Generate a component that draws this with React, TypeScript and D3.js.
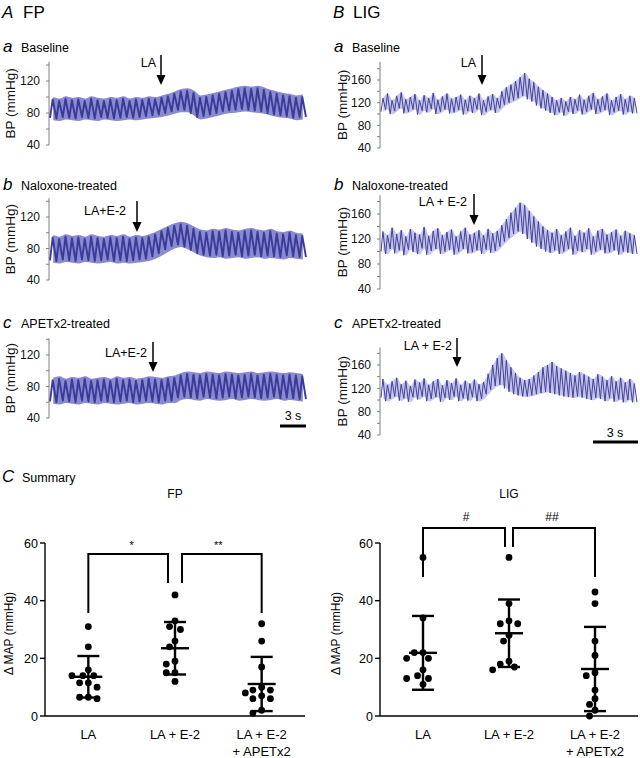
import React from "react";
import * as d3 from "d3";

const FONT = '"Liberation Sans", Arial, Helvetica, sans-serif';

// ---------- Trace data: per-cycle systolic (HI) and diastolic (LO) values, mmHg ----------
const FP_BASE_HI = [97,95,98,96,97,95,98,96,95,97,96,98,95,97,96,98,97,99,101,104,107,108,105,99,100,102,104,106,108,110,111,110,111,109,106,104,102,101,99,100];
const FP_BASE_LO = [74,73,75,74,73,75,74,73,75,74,73,74,75,74,75,76,77,78,80,82,84,84,80,75,76,78,80,82,83,84,85,84,83,82,80,78,77,76,74,75];
const FP_NAL_HI = [94,92,95,93,94,92,95,93,92,94,93,95,92,94,93,95,98,102,106,109,111,109,105,101,100,102,101,103,101,100,102,103,101,100,102,99,98,100,97,96];
const FP_NAL_LO = [65,64,66,65,64,66,65,64,65,66,64,65,64,65,66,67,70,74,79,83,85,82,78,74,72,71,72,70,71,72,70,71,72,70,71,70,69,71,70,69];
const FP_APE_HI = [88,90,87,89,88,90,87,88,89,87,90,88,89,87,88,90,89,88,90,91,94,96,95,94,96,95,94,96,95,94,95,96,94,95,96,95,94,95,94,93];
const FP_APE_LO = [61,60,62,61,60,62,61,60,62,61,60,61,62,60,61,62,61,60,62,62,66,67,66,65,67,66,65,66,67,65,66,67,66,65,66,67,65,66,65,64];

const LIG_BASE_HI = [128,136,124,132,138,126,130,135,124,133,128,137,125,131,136,127,130,134,125,132,128,136,124,131,135,128,140,147,152,158,165,172,162,156,148,142,136,130,124,128,122,130,126,134,125,132,137,126,131,136,124,130,135,126,132,128];
const LIG_BASE_LO = [104,108,100,105,110,101,104,108,99,106,103,109,100,104,108,101,103,107,99,105,102,108,98,104,107,102,110,116,120,124,128,132,126,122,115,110,106,102,98,103,97,104,100,106,99,104,108,100,104,107,98,103,106,99,104,101];
const LIG_NAL_HI = [132,126,138,128,134,124,136,130,127,139,125,133,137,126,131,135,124,132,138,127,130,134,126,136,129,133,142,152,162,170,178,174,165,156,148,140,134,130,136,126,132,138,125,134,130,137,124,133,136,127,131,135,125,133,129,126];
const LIG_NAL_LO = [100,96,104,97,102,94,103,99,96,105,95,101,104,96,100,103,95,100,104,97,99,102,96,103,98,101,108,116,122,128,132,128,120,114,108,104,100,98,102,96,100,104,95,101,99,104,95,100,103,97,99,102,95,100,98,96];
const LIG_APE_HI = [136,126,132,138,127,133,124,135,130,137,126,132,136,125,134,129,137,126,133,128,135,127,131,145,160,172,180,168,156,146,138,134,136,142,148,156,160,165,158,154,150,146,142,148,144,140,136,144,140,134,141,132,138,130,136,128];
const LIG_APE_LO = [104,98,102,106,99,103,97,105,101,106,98,102,105,97,104,100,106,98,103,99,105,98,102,110,118,124,126,120,114,110,108,106,106,108,110,112,114,112,110,108,106,105,104,106,104,102,100,104,102,98,103,97,101,96,100,96];

const FP_TICKS = [40, 60, 80, 100, 120, 140];
const FP_LABELS = [40, 80, 120];
const LIG_TICKS = [40, 60, 80, 100, 120, 140, 160, 180];
const LIG_LABELS = [40, 80, 120, 160];

// ---------- Summary data: ΔMAP (mmHg) ----------
const CATEGORIES = ["LA", "LA + E-2", "LA + E-2|+ APETx2"];
const MAP_TICKS = [0, 20, 40, 60];
const FP_LA = [31, 24, 16, 14, 14, 14, 11.5, 11.5, 10, 6.5, 6, 6.5];
const FP_LAE2 = [42, 33, 31, 30, 26, 24, 19, 18, 15, 15, 12];
const FP_APET = [32, 26, 17, 10, 9, 9, 8, 7, 6, 6, 2, 1];
const LIG_LA = [55, 34, 22, 22, 20, 20, 16, 14, 13, 13, 11];
const LIG_LAE2 = [55, 39, 33, 32, 32, 28, 26, 19, 18, 17, 16];
const LIG_APET = [43, 39, 26, 21, 15, 14, 9, 6, 4, 2, 0];
const FP_MEAN = [13.6, 23.5, 11.1];
const FP_SD = [7.2, 9.1, 9.4];
const LIG_MEAN = [21.9, 28.7, 16.3];
const LIG_SD = [12.8, 11.7, 14.6];
const FP_SIG = ["*", "**"];
const LIG_SIG = ["#", "##"];

type TraceProps = {
  hi: number[];
  lo: number[];
  x0: number;
  x1: number;
  y40: number;
  yRef: number;
  refVal: number;
  axisTop: number;
  ticks: number[];
  labels: number[];
  kind: "fp" | "lig";
  ylabelX: number;
};

function Trace(p: TraceProps) {
  const y = d3.scaleLinear().domain([40, p.refVal]).range([p.y40, p.yRef]);
  const n = p.hi.length;
  const x = d3.scaleLinear().domain([0, n]).range([p.x0 + 1, p.x1]);
  const pts: [number, number][] = [];
  for (let i = 0; i < n; i++) {
    pts.push([x(i), y(p.lo[i])]);
    pts.push([x(i + 0.42), y(p.hi[i])]);
  }
  pts.push([x(n), y(p.lo[n - 1])]);
  const zig = d3.line()(pts) || "";
  const idx = d3.range(n);
  const pad = p.kind === "fp" ? 3 : 0.5;
  const band =
    d3
      .area<number>()
      .x((i) => x(i + 0.5))
      .y0((i) => y(p.lo[i] - pad))
      .y1((i) => y(p.hi[i] + pad))
      .curve(d3.curveMonotoneX)(idx) || "";
  const fp = p.kind === "fp";
  const mid = (y(40) + y(p.axisTop)) / 2;
  return (
    <g>
      <line x1={p.x0} x2={p.x0} y1={y(40)} y2={y(p.axisTop)} stroke="#808080" strokeWidth={1} />
      {p.ticks.map((t) => (
        <line key={t} x1={p.x0 - 3} x2={p.x0} y1={y(t)} y2={y(t)} stroke="#808080" strokeWidth={1} />
      ))}
      {p.labels.map((t) => (
        <text key={t} x={p.x0 - 9} y={y(t)} dy="0.36em" textAnchor="end" fontSize={12} fill="#111">
          {t}
        </text>
      ))}
      <text
        transform={`translate(${p.ylabelX},${mid}) rotate(-90)`}
        textAnchor="middle"
        fontSize={13.5}
        fill="#111"
      >
        BP (mmHg)
      </text>
      <path d={band} fill={fp ? "#8a8ad0" : "#c6c6ec"} stroke="none" />
      <path
        d={zig}
        fill="none"
        stroke={fp ? "#3a3a98" : "#42429a"}
        strokeWidth={fp ? 1.9 : 1}
        strokeLinejoin="round"
      />
    </g>
  );
}

function Arrow({ x, yTop, yTip, label, labelEnd, labelY }: { x: number; yTop: number; yTip: number; label: string; labelEnd: number; labelY: number }) {
  return (
    <g>
      <line x1={x} x2={x} y1={yTop} y2={yTip - 8} stroke="#000" strokeWidth={1.5} />
      <path d={`M${x - 4.5},${yTip - 10}L${x + 4.5},${yTip - 10}L${x},${yTip}Z`} fill="#000" />
      <text x={labelEnd} y={labelY} textAnchor="end" fontSize={12.5} fill="#000">
        {label}
      </text>
    </g>
  );
}

function SubTitle({ x, y, letter, text }: { x: number; y: number; letter: string; text: string }) {
  return (
    <g>
      <text x={x} y={y} fontSize={17} fontStyle="italic" fill="#000">
        {letter}
      </text>
      <text x={x + 18} y={y} fontSize={12.5} fill="#000">
        {text}
      </text>
    </g>
  );
}

function swarm(values: number[], y: (v: number) => number, cx: number, r: number) {
  const order = values.map((v, i) => ({ v, i })).sort((a, b) => b.v - a.v);
  const placed: { x: number; y: number }[] = [];
  const out: { x: number; y: number }[] = new Array(values.length);
  const step = 2 * r + 2;
  const cands = [0, -1, 1, -1.6, 1.6, -2.2, 2.2, -3, 3];
  for (const { v, i } of order) {
    const py = y(v);
    let px = cx;
    for (const c of cands) {
      const tx = cx + c * step * 0.62;
      if (placed.every((q) => Math.hypot(q.x - tx, q.y - py) >= 2 * r + 1)) {
        px = tx;
        break;
      }
    }
    placed.push({ x: px, y: py });
    out[i] = { x: px, y: py };
  }
  return out;
}

type SummaryProps = {
  x0: number;
  x1: number;
  yZero: number;
  ySixty: number;
  groups: number[][];
  means: number[];
  sds: number[];
  sig: string[];
  title: string;
  ylabelX: number;
  bracketTop: number;
  legOuter: number;
  legInner: number;
  gap: number;
  sigY: number;
  sigSize: number;
};

function Summary(p: SummaryProps) {
  const y = d3.scaleLinear().domain([0, 60]).range([p.yZero, p.ySixty]);
  const xs = d3.scalePoint<string>().domain(CATEGORIES).range([p.x0, p.x1]).padding(0.5);
  const cx = CATEGORIES.map((c) => xs(c) as number);
  const r = 3.4;
  const b1 = `M${cx[0]},${y(p.legOuter)}V${y(p.bracketTop)}H${cx[1] - p.gap}V${y(p.legInner)}`;
  const b2 = `M${cx[1] + p.gap},${y(p.legInner)}V${y(p.bracketTop)}H${cx[2]}V${y(p.legOuter)}`;
  return (
    <g>
      <text x={(p.x0 + p.x1) / 2} y={498} textAnchor="middle" fontSize={12} fill="#000">
        {p.title}
      </text>
      <line x1={p.x0} x2={p.x0} y1={y(0)} y2={y(60)} stroke="#000" strokeWidth={1.4} />
      <line x1={p.x0} x2={p.x1} y1={y(0)} y2={y(0)} stroke="#000" strokeWidth={1.4} />
      {MAP_TICKS.map((t) => (
        <g key={t}>
          <line x1={p.x0 - 5} x2={p.x0} y1={y(t)} y2={y(t)} stroke="#000" strokeWidth={1.4} />
          <text x={p.x0 - 7} y={y(t)} dy="0.36em" textAnchor="end" fontSize={12.5} fill="#000">
            {t}
          </text>
        </g>
      ))}
      <text
        transform={`translate(${p.ylabelX},${(y(0) + y(60)) / 2 + 4}) rotate(-90)`}
        textAnchor="middle"
        fontSize={12}
        fill="#000"
      >
        Δ MAP (mmHg)
      </text>
      {CATEGORIES.map((c, i) => (
        <text key={c} x={cx[i]} y={739} textAnchor="middle" fontSize={13} fill="#000">
          {c.split("|").map((line, j) => (
            <tspan key={j} x={cx[i]} dy={j === 0 ? 0 : 17}>
              {line}
            </tspan>
          ))}
        </text>
      ))}
      {p.groups.map((vals, gi) =>
        swarm(vals, y, cx[gi], r).map((pt, k) => <circle key={`${gi}-${k}`} cx={pt.x} cy={pt.y} r={r} fill="#000" />)
      )}
      {p.means.map((m, i) => {
        const hi = y(m + p.sds[i]);
        const lo = y(m - p.sds[i]);
        return (
          <g key={i} stroke="#000" strokeWidth={2.4}>
            <line x1={cx[i]} x2={cx[i]} y1={hi} y2={lo} />
            <line x1={cx[i] - 11} x2={cx[i] + 11} y1={hi} y2={hi} />
            <line x1={cx[i] - 11} x2={cx[i] + 11} y1={lo} y2={lo} />
            <line x1={cx[i] - 14} x2={cx[i] + 14} y1={y(m)} y2={y(m)} />
          </g>
        );
      })}
      <path d={b1} fill="none" stroke="#000" strokeWidth={2} />
      <path d={b2} fill="none" stroke="#000" strokeWidth={2} />
      <text x={(cx[0] + cx[1]) / 2} y={p.sigY} textAnchor="middle" fontSize={p.sigSize} fill="#000">
        {p.sig[0]}
      </text>
      <text x={(cx[1] + cx[2]) / 2} y={p.sigY} textAnchor="middle" fontSize={p.sigSize} fill="#000">
        {p.sig[1]}
      </text>
    </g>
  );
}

export default function App() {
  return (
    <svg
      width={640}
      height={758}
      viewBox="0 0 640 758"
      style={{ position: "absolute", left: 0, top: 0, background: "#fff" }}
      fontFamily={FONT}
    >
      <rect width={640} height={758} fill="#fff" />
      {/* Panel titles */}
      <text x={2} y={18} fontSize={17} fontStyle="italic">A</text>
      <text x={23} y={18} fontSize={17}>FP</text>
      <text x={333} y={18} fontSize={17} fontStyle="italic">B</text>
      <text x={353} y={18} fontSize={17}>LIG</text>

      <SubTitle x={3} y={52} letter="a" text="Baseline" />
      <SubTitle x={3} y={190} letter="b" text="Naloxone-treated" />
      <SubTitle x={3} y={328} letter="c" text="APETx2-treated" />
      <SubTitle x={334} y={52} letter="a" text="Baseline" />
      <SubTitle x={334} y={190} letter="b" text="Naloxone-treated" />
      <SubTitle x={334} y={328} letter="c" text="APETx2-treated" />

      {/* FP traces */}
      <Trace hi={FP_BASE_HI} lo={FP_BASE_LO} x0={49} x1={306} y40={145} yRef={81} refVal={120} axisTop={144} ticks={FP_TICKS} labels={FP_LABELS} kind="fp" ylabelX={15} />
      <Trace hi={FP_NAL_HI} lo={FP_NAL_LO} x0={49} x1={306} y40={280} yRef={217} refVal={120} axisTop={144} ticks={FP_TICKS} labels={FP_LABELS} kind="fp" ylabelX={15} />
      <Trace hi={FP_APE_HI} lo={FP_APE_LO} x0={49} x1={306} y40={418} yRef={355} refVal={120} axisTop={141} ticks={FP_TICKS} labels={FP_LABELS} kind="fp" ylabelX={15} />

      {/* LIG traces */}
      <Trace hi={LIG_BASE_HI} lo={LIG_BASE_LO} x0={380} x1={637} y40={148} yRef={80} refVal={160} axisTop={192} ticks={LIG_TICKS} labels={LIG_LABELS} kind="lig" ylabelX={347} />
      <Trace hi={LIG_NAL_HI} lo={LIG_NAL_LO} x0={380} x1={637} y40={289} yRef={214} refVal={160} axisTop={190} ticks={LIG_TICKS} labels={LIG_LABELS} kind="lig" ylabelX={347} />
      <Trace hi={LIG_APE_HI} lo={LIG_APE_LO} x0={380} x1={637} y40={435} yRef={365} refVal={160} axisTop={190} ticks={LIG_TICKS} labels={LIG_LABELS} kind="lig" ylabelX={347} />

      {/* Arrows */}
      <Arrow x={161} yTop={55} yTip={85} label="LA" labelEnd={156} labelY={67} />
      <Arrow x={137} yTop={201} yTip={232} label="LA+E-2" labelEnd={126} labelY={215} />
      <Arrow x={153} yTop={342} yTip={372} label="LA+E-2" labelEnd={147} labelY={357} />
      <Arrow x={482} yTop={55} yTip={85} label="LA" labelEnd={476} labelY={67} />
      <Arrow x={474} yTop={194} yTip={225} label="LA + E-2" labelEnd={467} labelY={206} />
      <Arrow x={457} yTop={338} yTip={367} label="LA + E-2" labelEnd={452} labelY={350} />

      {/* Scale bars */}
      <rect x={280} y={424.5} width={26} height={3} fill="#000" />
      <text x={293} y={420} textAnchor="middle" fontSize={12.5}>3 s</text>
      <rect x={593} y={440.5} width={45} height={3} fill="#000" />
      <text x={615} y={437} textAnchor="middle" fontSize={12.5}>3 s</text>

      {/* Summary */}
      <text x={2} y={482} fontSize={17} fontStyle="italic">C</text>
      <text x={22} y={482} fontSize={12.5}>Summary</text>

      <Summary
        x0={45}
        x1={305}
        yZero={716}
        ySixty={543}
        groups={[FP_LA, FP_LAE2, FP_APET]}
        means={FP_MEAN}
        sds={FP_SD}
        sig={FP_SIG}
        title="FP"
        ylabelX={12.5}
        bracketTop={56.2}
        legOuter={35.7}
        legInner={46.1}
        gap={7}
        sigY={549}
        sigSize={11}
        />
      <Summary
        x0={380}
        x1={638}
        yZero={716}
        ySixty={543}
        groups={[LIG_LA, LIG_LAE2, LIG_APET]}
        means={LIG_MEAN}
        sds={LIG_SD}
        sig={LIG_SIG}
        title="LIG"
        ylabelX={339.5}
        bracketTop={65.2}
        legOuter={48.2}
        legInner={58.6}
        gap={4}
        sigY={521}
        sigSize={12}
      />
    </svg>
  );
}
